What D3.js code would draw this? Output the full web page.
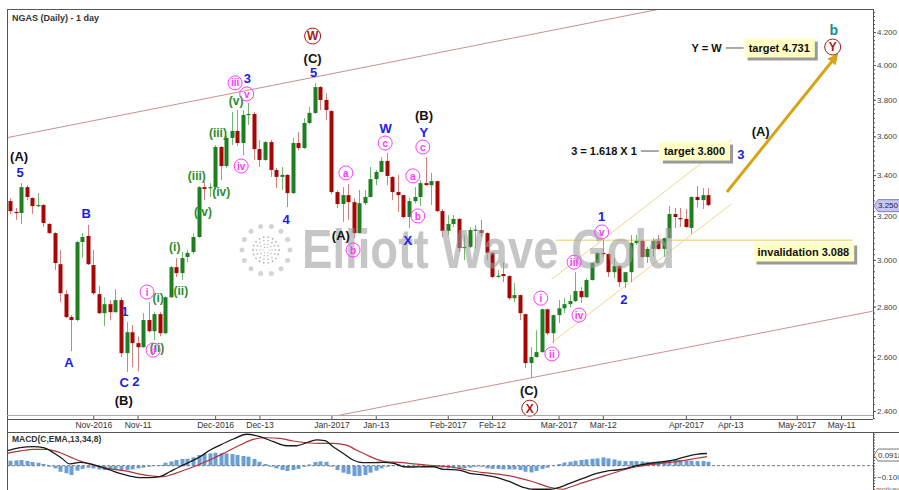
<!DOCTYPE html>
<html>
<head>
<meta charset="utf-8">
<script src="https://cdn.jsdelivr.net/npm/d3@7"></script>
<style>
  body { margin: 0; background: #fff; }
  svg { display: block; font-family: "Liberation Sans", Arial, sans-serif; }
</style>
</head>
<body>
<script>
// Set up size
var width = 899, height = 490;
var plotLeft = 7, plotRight = 873, plotTop = 9, plotBottom = 415;
var axisLineY = 419, macdTop = 432, macdBottom = 490;

// ---- data: trading day index (0 = 1 Nov 2016) ----
var firstDay = -15;
var opens = [3.272,3.220,3.215,3.340,3.287,3.248,3.253,3.163,3.121,2.981,
  2.852,2.757,2.745,3.080,3.108,2.977,2.852,2.773,2.810,2.777,
  2.827,2.614,2.696,2.653,2.637,2.745,2.700,2.769,2.692,2.839,
  2.968,2.942,3.013,3.035,3.103,3.340,3.336,3.340,3.544,3.446,
  3.592,3.629,3.565,3.716,3.721,3.533,3.477,3.570,3.426,3.391,
  3.401,3.311,3.565,3.539,3.672,3.727,3.872,3.799,3.737,3.316,
  3.258,3.301,3.267,3.121,3.262,3.292,3.380,3.416,3.472,3.391,
  3.316,3.301,3.196,3.272,3.292,3.360,3.350,3.370,3.224,3.131,
  3.163,3.187,3.053,3.058,3.133,3.135,3.121,3.031,2.927,2.938,
  2.929,2.835,2.848,2.769,2.576,2.599,2.618,2.789,2.692,2.765,
  2.793,2.810,2.823,2.865,2.839,2.912,2.986,3.031,3.026,2.946,
  2.973,2.903,2.946,3.076,3.085,3.013,3.049,3.085,3.049,3.098,
  3.210,3.191,3.187,3.145,3.292,3.277,3.301];
var highs = [3.287,3.239,3.360,3.350,3.290,3.311,3.258,3.168,3.125,3.044,
  2.869,2.765,3.085,3.121,3.159,3.044,2.886,2.839,2.827,2.873,
  2.839,2.737,2.725,2.680,2.773,2.819,2.777,2.777,2.843,2.973,
  3.008,3.035,3.044,3.121,3.345,3.365,3.360,3.554,3.549,3.602,
  3.732,3.743,3.743,3.782,3.732,3.581,3.575,3.581,3.436,3.441,
  3.405,3.592,3.623,3.699,3.760,3.896,3.878,3.838,3.743,3.326,
  3.340,3.355,3.287,3.326,3.326,3.441,3.426,3.492,3.513,3.394,
  3.401,3.303,3.287,3.340,3.375,3.492,3.411,3.372,3.234,3.205,
  3.205,3.191,3.112,3.149,3.159,3.182,3.125,3.035,2.955,2.990,
  2.933,2.899,2.850,2.771,2.637,2.704,2.791,2.791,2.767,2.827,
  2.835,2.848,2.946,2.882,2.920,2.988,3.035,3.089,3.028,3.008,
  2.977,2.948,3.112,3.112,3.089,3.058,3.098,3.112,3.100,3.248,
  3.239,3.239,3.234,3.294,3.345,3.336,3.336];
var lows = [3.210,3.182,3.163,3.277,3.210,3.243,3.149,3.117,2.955,2.819,
  2.753,2.622,2.740,3.008,2.977,2.848,2.770,2.721,2.745,2.775,
  2.599,2.542,2.560,2.545,2.635,2.696,2.665,2.680,2.688,2.835,
  2.925,2.912,2.990,3.026,3.100,3.277,3.292,3.326,3.375,3.436,
  3.554,3.549,3.502,3.661,3.477,3.441,3.472,3.391,3.336,3.326,
  3.243,3.306,3.528,3.533,3.666,3.720,3.743,3.688,3.306,3.239,
  3.173,3.182,3.098,3.119,3.253,3.290,3.350,3.414,3.350,3.277,
  3.220,3.191,3.145,3.262,3.248,3.348,3.253,3.220,3.103,3.112,
  3.149,3.035,2.999,3.053,3.053,3.103,2.999,2.920,2.920,2.903,
  2.827,2.819,2.745,2.557,2.519,2.597,2.616,2.684,2.653,2.733,
  2.773,2.797,2.819,2.815,2.837,2.910,2.981,3.013,2.925,2.920,
  2.882,2.877,2.903,3.067,3.008,2.986,3.013,3.044,3.013,3.094,
  3.145,3.149,3.145,3.117,3.243,3.234,3.248];
var closes = [3.224,3.215,3.340,3.292,3.248,3.253,3.168,3.121,2.986,2.856,
  2.757,2.745,3.080,3.103,2.981,2.856,2.773,2.810,2.777,2.827,
  2.614,2.696,2.653,2.637,2.745,2.700,2.769,2.692,2.839,2.968,
  2.942,3.008,3.031,3.103,3.340,3.331,3.340,3.544,3.446,3.592,
  3.629,3.565,3.716,3.721,3.533,3.477,3.570,3.426,3.391,3.401,
  3.311,3.565,3.539,3.672,3.727,3.872,3.799,3.743,3.316,3.258,
  3.301,3.267,3.121,3.262,3.292,3.380,3.416,3.472,3.396,3.316,
  3.301,3.196,3.272,3.292,3.360,3.350,3.370,3.224,3.131,3.163,
  3.187,3.053,3.058,3.135,3.137,3.121,3.031,2.925,2.931,2.929,
  2.835,2.848,2.773,2.576,2.599,2.618,2.789,2.692,2.765,2.793,
  2.810,2.823,2.865,2.839,2.912,2.986,3.031,3.026,2.946,2.973,
  2.903,2.946,3.076,3.085,3.013,3.049,3.085,3.049,3.098,3.210,
  3.196,3.187,3.149,3.292,3.277,3.301,3.253];

// MACD histogram, one per candle
var histValues = [0.043,0.046,0.049,0.041,0.032,0.026,0.015,-0.009,-0.023,-0.052,
  -0.066,-0.080,-0.043,-0.028,-0.017,-0.023,-0.032,-0.037,-0.037,-0.037,
  -0.043,-0.037,-0.032,-0.023,-0.017,-0.009,-0.003,0.006,0.026,0.037,
  0.049,0.058,0.060,0.072,0.092,0.101,0.106,0.112,0.106,0.106,
  0.101,0.092,0.084,0.078,0.058,0.034,0.015,-0.009,-0.023,-0.037,
  -0.046,-0.037,-0.028,-0.009,0.011,0.032,0.037,0.034,-0.009,-0.037,
  -0.060,-0.072,-0.089,-0.089,-0.080,-0.060,-0.043,-0.023,-0.009,0.006,
  0.015,-0.003,-0.009,-0.009,-0.003,0.003,-0.003,-0.009,-0.017,-0.023,
  -0.023,-0.028,-0.023,-0.017,-0.009,-0.009,-0.023,-0.028,-0.028,-0.032,
  -0.032,-0.032,-0.037,-0.052,-0.058,-0.046,-0.028,-0.017,-0.003,0.015,
  0.028,0.034,0.043,0.049,0.054,0.060,0.063,0.072,0.063,0.054,
  0.043,0.040,0.040,0.040,0.037,0.034,0.034,0.034,0.040,0.049,
  0.049,0.049,0.043,0.043,0.040,0.040,0.034];

// MACD and signal line, read at [day, value]
var macdLine = [[-15.5,0.129],[-13.2,0.155],[-10.8,0.164],[-9.0,0.155],[-7.2,0.112],[-5.7,0.064],
  [-4.2,0.015],[-2.4,0.029],[-0.9,0.021],[1.2,-0.009],[3.0,-0.037],[4.8,-0.066],[6.6,-0.089],
  [8.4,-0.103],[10.2,-0.103],[12.0,-0.095],[13.8,-0.052],[15.6,-0.009],[17.5,0.034],[19.3,0.078],
  [21.1,0.135],[22.9,0.178],[25.3,0.230],[27.7,0.271],[30.1,0.250],[32.5,0.207],[34.9,0.172],
  [36.7,0.172],[38.5,0.198],[40.3,0.222],[41.8,0.216],[43.3,0.164],[45.1,0.107],[46.9,0.049],
  [48.7,0.026],[50.5,0.026],[52.3,0.029],[54.2,0.021],[56.0,-0.009],[57.8,-0.011],[59.6,-0.009],
  [61.4,-0.009],[63.2,-0.031],[64.4,-0.033],[66.2,-0.040],[68.0,-0.066],[70.4,-0.080],[72.8,-0.100],
  [75.2,-0.138],[77.6,-0.186],[79.4,-0.203],[82.4,-0.203],[84.2,-0.186],[86.0,-0.152],[88.4,-0.109],
  [90.9,-0.066],[92.7,-0.046],[94.5,-0.037],[96.3,-0.023],[98.1,0.000],[100.5,0.021],[102.9,0.034],
  [104.7,0.049],[106.5,0.072],[108.9,0.098],[110.8,0.105]];
var signalLine = [[-15.5,0.107],[-13.2,0.127],[-10.8,0.141],[-8.4,0.141],[-6.0,0.112],[-3.6,0.064],
  [-1.2,0.021],[1.2,-0.009],[3.6,-0.031],[6.0,-0.046],[8.4,-0.072],[10.8,-0.089],[12.6,-0.095],
  [14.4,-0.072],[16.9,-0.031],[19.3,0.015],[21.7,0.064],[24.1,0.121],[26.5,0.178],[28.9,0.227],
  [31.3,0.241],[33.7,0.236],[36.1,0.213],[38.5,0.198],[40.9,0.193],[43.3,0.193],[45.7,0.178],
  [47.5,0.135],[49.4,0.092],[51.2,0.055],[53.0,0.034],[55.4,0.029],[57.8,0.015],[60.2,0.006],
  [62.6,-0.003],[64.4,-0.009],[67.4,-0.037],[70.4,-0.060],[73.4,-0.074],[76.4,-0.100],[79.4,-0.138],
  [82.4,-0.186],[84.8,-0.203],[86.0,-0.186],[88.4,-0.146],[90.9,-0.109],[93.3,-0.072],[95.7,-0.037],
  [98.1,-0.009],[100.5,0.009],[103.5,0.026],[106.5,0.043],[108.9,0.064],[110.8,0.078]];
var macdLast = 0.0918;
var lastPrice = 3.250;

// axes
var dateLabels = ["Nov-2016","Nov-11","Dec-2016","Dec-13","Jan-2017","Jan-13","Feb-2017","Feb-12",
  "Mar-2017","Mar-12","Apr-2017","Apr-13","May-2017","May-11"];
var dateDays = [0,8,22,30,43,51,64,72,84,92,107,115,127,135];
var priceTicks = [2.4,2.6,2.8,3.0,3.2,3.4,3.6,3.8,4.0,4.2];

// trend lines [day, price]
var upperLine = [[-15.6,3.593],[101.8,4.341]];
var lowerLine = [[44.4,2.385],[140.7,2.781]];
var channelLow = [[82.74,2.654],[115.2,3.258]];
var channelHigh = [[82.74,2.915],[115.2,3.581]];
var invalidationLevel = 3.088, invalidationDays = [83.5, 137.1];
var arrowPath = [[114.4,3.316],[134.0,4.048]];

// wave labels [text, day, price]
var blackLabels = [["(A)",-13.4,3.497],["(B)",5.5,2.439],["(C)",39.6,4.042],["(A)",44.7,3.112],
  ["(B)",59.7,3.716],["(C)",78.65,2.475],["(A)",120.5,3.629]];
var blueLabels = [["5",-13.2,3.416],["B",-1.3,3.215],["A",-4.4,2.580],["1",5.7,2.781],["C",5.6,2.505],
  ["2",7.7,2.509],["3",27.8,3.925],["4",34.8,3.187],["5",39.8,3.959],["W",52.8,3.645],["Y",59.7,3.623],
  ["X",56.8,3.089],["1",91.8,3.201],["2",95.8,2.831],["3",116.9,3.507]];
var greenLabels = [["(iii)",18.7,3.396],["(iv)",23.1,3.316],["(iv)",19.8,3.220],["(iii)",22.5,3.618],
  ["(v)",25.8,3.793],["(i)",14.7,3.058],["(ii)",15.8,2.865],["(i)",11.7,2.839],["(ii)",11.5,2.637]];
var pinkLabels = [["i",9.7,2.861],["ii",10.8,2.626],["iii",25.6,3.896],["v",27.7,3.833],["iv",26.7,3.446],
  ["a",45.6,3.411],["b",46.9,3.044],["c",52.7,3.565],["a",57.7,3.396],["b",58.6,3.201],["c",59.5,3.544],
  ["i",80.8,2.835],["ii",82.8,2.611],["iii",86.8,2.990],["iv",87.7,2.765],["v",91.8,3.126]];
var redLabels = [["W",39.6,4.175],["X",78.8,2.410],["Y",133.5,4.108]];
var tealLabels = [["b",133.7,4.213]];

// callouts
var calloutNotes = ["3 = 1.618 X 1", "Y = W", ""];
var calloutBoxes = ["target 3.800", "target 4.731", "invalidation 3.088"];
var calloutAnchors = [[102.3,3.523],[117.6,4.102],[119.2,3.035]];

// ---- scales ----
var x = d3.scaleLinear().domain([0, 135]).range([93.3, 841]);
var y = d3.scaleLog().domain([2.4, 4.2]).range([411, 32]);
var yM = d3.scaleLinear().domain([-0.1, 0]).range([477.3, 465.7]);

var candles = opens.map(function(o, k) {
  return {day: firstDay + k, o: o, h: highs[k], l: lows[k], c: closes[k], hist: histValues[k]};
});

var svg = d3.select('body').append('svg')
  .attr('width', width)
  .attr('height', height);

var defs = svg.append('defs');
defs.append('clipPath').attr('id', 'plotClip').append('rect')
  .attr('x', plotLeft).attr('y', plotTop)
  .attr('width', plotRight - plotLeft).attr('height', plotBottom - plotTop);
defs.append('clipPath').attr('id', 'macdClip').append('rect')
  .attr('x', plotLeft).attr('y', macdTop)
  .attr('width', plotRight - plotLeft).attr('height', macdBottom - macdTop);
defs.append('marker').attr('id', 'arrowHead')
  .attr('viewBox', '0 0 10 10').attr('refX', 6).attr('refY', 5)
  .attr('markerWidth', 3.6).attr('markerHeight', 3.6).attr('orient', 'auto')
  .append('path').attr('d', 'M0,0 L10,5 L0,10 z').attr('fill', '#d6a414');

var plot = svg.append('g').attr('clip-path', 'url(#plotClip)');
var line = d3.line().x(function(d) { return x(d[0]); }).y(function(d) { return y(d[1]); });

// trend lines
plot.selectAll('path.trend')
  .data([upperLine, lowerLine])
  .enter().append('path')
  .attr('d', line)
  .attr('fill', 'none').attr('stroke', '#c99090').attr('stroke-width', 1);

plot.selectAll('path.chan')
  .data([channelLow, channelHigh])
  .enter().append('path')
  .attr('d', line)
  .attr('fill', 'none').attr('stroke', '#f0d58a').attr('stroke-width', 1);

plot.append('path')
  .attr('d', line([[invalidationDays[0], invalidationLevel], [invalidationDays[1], invalidationLevel]]))
  .attr('stroke', '#f2dc9c').attr('stroke-width', 1.6);

// candles
plot.selectAll('line.wick')
  .data(candles)
  .enter().append('line')
  .attr('x1', function(d) { return Math.round(x(d.day)) + 0.5; })
  .attr('x2', function(d) { return Math.round(x(d.day)) + 0.5; })
  .attr('y1', function(d) { return y(d.h); })
  .attr('y2', function(d) { return y(d.l); })
  .attr('stroke', function(d) { return d.c >= d.o ? '#72b872' : '#d38080'; })
  .attr('stroke-width', 1);

plot.selectAll('rect.body')
  .data(candles)
  .enter().append('rect')
  .attr('x', function(d) { return Math.round(x(d.day)) - 1.5; })
  .attr('width', 4)
  .attr('y', function(d) { return y(Math.max(d.o, d.c)); })
  .attr('height', function(d) { return Math.max(1.2, Math.abs(y(d.o) - y(d.c))); })
  .attr('fill', function(d) { return d.c >= d.o ? '#1d7f1d' : '#a80505'; });

// watermark
var wm = svg.append('g').attr('pointer-events', 'none');
wm.append('text')
  .attr('x', 302).attr('y', 268)
  .attr('textLength', 373).attr('lengthAdjust', 'spacingAndGlyphs')
  .style('font-family', '"Liberation Sans Narrow", "Liberation Sans", Arial, sans-serif')
  .style('font-weight', 'bold').style('font-size', '56px')
  .attr('fill', '#9c9c9c').attr('fill-opacity', 0.58)
  .text('Elliott Wave Gold');

var rings = [[24, 14, 2.5, '#d4d4d4'], [13, 18, 0.9, '#b0b0b0'], [9.5, 14, 0.8, '#b0b0b0'],
             [6, 10, 0.7, '#b0b0b0'], [3, 6, 0.6, '#b0b0b0']];
rings.forEach(function(r) {
  wm.selectAll(null).data(d3.range(r[1])).enter().append('circle')
    .attr('cx', function(k) { return 266 + r[0] * Math.cos(k * 2 * Math.PI / r[1]); })
    .attr('cy', function(k) { return 250 + r[0] * Math.sin(k * 2 * Math.PI / r[1]); })
    .attr('r', r[2]).attr('fill', r[3]);
});

// arrow
plot.append('path')
  .attr('d', line(arrowPath))
  .attr('stroke', '#d6a414').attr('stroke-width', 3).attr('fill', 'none')
  .attr('marker-end', 'url(#arrowHead)');

// labels
function addLabels(data, color, size) {
  svg.append('g').selectAll('text')
    .data(data)
    .enter().append('text')
    .attr('x', function(d) { return x(d[1]); })
    .attr('y', function(d) { return y(d[2]); })
    .attr('dy', '0.36em')
    .attr('text-anchor', 'middle')
    .style('font-weight', 'bold').style('font-size', size + 'px')
    .attr('fill', color)
    .text(function(d) { return d[0]; });
}
addLabels(blackLabels, '#111', 13);
addLabels(blueLabels, '#2020e6', 13);
addLabels(greenLabels, '#2c8c2c', 12);
addLabels(tealLabels, '#178c96', 14);

function addCircled(data, color, r, size) {
  var g = svg.append('g').selectAll('g')
    .data(data)
    .enter().append('g')
    .attr('transform', function(d) { return 'translate(' + x(d[1]) + ',' + y(d[2]) + ')'; });
  g.append('circle').attr('r', r).attr('fill', 'none').attr('stroke', color).attr('stroke-width', 1);
  g.append('text')
    .attr('dy', '0.36em').attr('text-anchor', 'middle')
    .style('font-weight', 'bold').style('font-size', size + 'px')
    .attr('fill', color)
    .text(function(d) { return d[0]; });
}
addCircled(pinkLabels, '#ff38ff', 7, 10);
addCircled(redLabels, '#a81a1a', 8, 12);

// callouts
calloutBoxes.forEach(function(label, k) {
  var bx = x(calloutAnchors[k][0]), by = y(calloutAnchors[k][1]);
  var g = svg.append('g');
  var shadow = g.append('rect').attr('fill', '#9a9a9a');
  var box = g.append('rect').attr('fill', '#ffffc6');
  var t = g.append('text')
    .attr('x', bx + 4).attr('y', by).attr('dy', '0.36em')
    .style('font-weight', 'bold').style('font-size', '11px').attr('fill', '#111')
    .text(label);
  var w = t.node().getComputedTextLength() + 9;
  box.attr('x', bx).attr('y', by - 9.5).attr('width', w).attr('height', 19);
  shadow.attr('x', bx + 3).attr('y', by - 6.5).attr('width', w).attr('height', 19);
  if (calloutNotes[k]) {
    g.append('line')
      .attr('x1', bx - 19).attr('x2', bx - 1).attr('y1', by).attr('y2', by)
      .attr('stroke', '#555').attr('stroke-width', 1);
    g.append('text')
      .attr('x', bx - 23).attr('y', by).attr('dy', '0.36em')
      .attr('text-anchor', 'end')
      .style('font-weight', 'bold').style('font-size', '11px').attr('fill', '#111')
      .text(calloutNotes[k]);
  }
});

// title
svg.append('text').attr('x', 12).attr('y', 21)
  .style('font-weight', 'bold').style('font-size', '9px').attr('fill', '#333')
  .text('NGAS (Daily) - 1 day');

// ---- frame ----
var frame = svg.append('g').attr('stroke', '#555').attr('stroke-width', 1).attr('shape-rendering', 'crispEdges');
frame.append('line').attr('x1', plotLeft).attr('x2', plotRight).attr('y1', plotTop).attr('y2', plotTop);
frame.append('line').attr('x1', plotLeft).attr('x2', plotLeft).attr('y1', plotTop).attr('y2', macdBottom);
frame.append('line').attr('x1', plotRight).attr('x2', plotRight).attr('y1', plotTop).attr('y2', axisLineY);
frame.append('line').attr('x1', plotLeft).attr('x2', plotRight).attr('y1', plotBottom).attr('y2', plotBottom).attr('stroke', '#aaa');
frame.append('line').attr('x1', plotLeft).attr('x2', plotRight).attr('y1', axisLineY).attr('y2', axisLineY);
frame.append('line').attr('x1', plotLeft).attr('x2', width).attr('y1', macdTop).attr('y2', macdTop);
frame.append('line').attr('x1', plotRight).attr('x2', plotRight).attr('y1', macdTop).attr('y2', macdBottom);

// price axis
var minorTicks = d3.range(2.375, 4.35, 0.025);
var yMinor = svg.append('g').attr('transform', 'translate(' + plotRight + ',0)')
  .call(d3.axisRight(y).tickValues(minorTicks).tickSize(2).tickFormat(''));
var yAxis = svg.append('g').attr('transform', 'translate(' + plotRight + ',0)')
  .call(d3.axisRight(y).tickValues(priceTicks).tickSize(3).tickPadding(1).tickFormat(d3.format('.3f')));
[yMinor, yAxis].forEach(function(a) {
  a.select('.domain').remove();
  a.selectAll('line').attr('stroke', '#555');
  a.selectAll('text').style('font-size', '8px').style('font-family', '"Liberation Sans", Arial, sans-serif').attr('fill', '#444');
});

// last price marker
var lp = svg.append('g').attr('transform', 'translate(' + (plotRight + 1) + ',' + y(lastPrice) + ')');
lp.append('path').attr('d', 'M0,0 L4,-6 L26,-6 L26,6 L4,6 Z').attr('fill', '#c6c6f4').attr('stroke', '#7a7ad0');
lp.append('text').attr('x', 4).attr('dy', '0.35em').style('font-size', '8px').attr('fill', '#223').text(d3.format('.3f')(lastPrice));

// date axis
var xAxis = svg.append('g').attr('transform', 'translate(0,' + axisLineY + ')')
  .call(d3.axisBottom(x).tickValues(dateDays).tickSizeInner(-3).tickSizeOuter(0).tickPadding(3)
    .tickFormat(function(d, k) { return dateLabels[k]; }));
xAxis.select('.domain').remove();
xAxis.selectAll('line').attr('stroke', '#555');
xAxis.selectAll('text').style('font-size', '8.5px').style('font-family', '"Liberation Sans", Arial, sans-serif').attr('fill', '#333');

// ---- MACD panel ----
var macd = svg.append('g').attr('clip-path', 'url(#macdClip)');
macd.selectAll('rect')
  .data(candles)
  .enter().append('rect')
  .attr('x', function(d) { return Math.round(x(d.day)) - 1.5; })
  .attr('width', 4)
  .attr('y', function(d) { return yM(Math.max(0, d.hist)); })
  .attr('height', function(d) { return Math.abs(yM(d.hist) - yM(0)); })
  .attr('fill', '#6a9fd4');

macd.append('line')
  .attr('x1', plotLeft).attr('x2', plotRight).attr('y1', yM(0)).attr('y2', yM(0))
  .attr('stroke', '#777').attr('stroke-dasharray', '3,2');

var mline = d3.line().curve(d3.curveMonotoneX)
  .x(function(d) { return x(d[0]); }).y(function(d) { return yM(d[1]); });
macd.append('path').attr('d', mline(signalLine)).attr('fill', 'none').attr('stroke', '#b03636').attr('stroke-width', 1.2);
macd.append('path').attr('d', mline(macdLine)).attr('fill', 'none').attr('stroke', '#1a1a1a').attr('stroke-width', 1.3);

svg.append('text').attr('x', 12).attr('y', 442)
  .style('font-weight', 'bold').style('font-size', '8.5px').attr('fill', '#333')
  .text('MACD(C,EMA,13,34,8)');

var mAxisMinor = svg.append('g').attr('transform', 'translate(' + plotRight + ',0)')
  .call(d3.axisRight(yM).tickValues(d3.range(-0.2, 0.3, 0.025)).tickSize(2).tickFormat(''));
var mAxis = svg.append('g').attr('transform', 'translate(' + plotRight + ',0)')
  .call(d3.axisRight(yM).tickValues([-0.1]).tickSize(3).tickPadding(1).tickFormat(d3.format('.3f')));
[mAxisMinor, mAxis].forEach(function(a) {
  a.select('.domain').remove();
  a.selectAll('line').attr('stroke', '#555');
  a.selectAll('.tick').filter(function(d) { return yM(d) < macdTop || yM(d) > macdBottom; }).remove();
  a.selectAll('text').style('font-size', '8px').style('font-family', '"Liberation Sans", Arial, sans-serif').attr('fill', '#444');
});

var mp = svg.append('g').attr('transform', 'translate(' + (plotRight + 1) + ',' + yM(macdLast) + ')');
mp.append('path').attr('d', 'M0,0 L4,-6 L26,-6 L26,6 L4,6 Z').attr('fill', '#fff').attr('stroke', '#777');
mp.append('text').attr('x', 4).attr('dy', '0.35em').style('font-size', '8px').attr('fill', '#333').text(macdLast);

svg.append('text').attr('x', 876).attr('y', 492)
  .style('font-size', '7px').attr('fill', '#777').text('motivewave.com');
</script>
</body>
</html>
